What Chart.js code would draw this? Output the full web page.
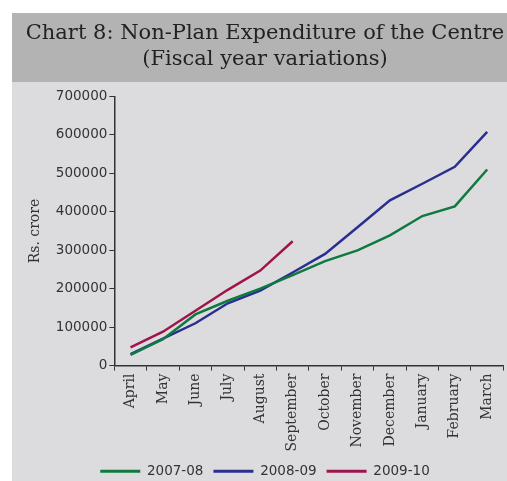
<!DOCTYPE html>
<html><head><meta charset="utf-8">
<script src="https://cdn.jsdelivr.net/npm/chart.js@4/dist/chart.umd.min.js"></script>
<style>html,body{margin:0;padding:0;background:#fff;}#wrap{position:absolute;left:0;top:0;width:507px;height:481px;}</style>
</head><body><div id="wrap"><canvas id="c" width="507" height="481"></canvas></div>
<script>
const categories = ["April","May","June","July","August","September","October","November","December","January","February","March"];
const s2007 = [28000,68500,133000,168500,200000,235000,271500,299500,338500,389000,414000,510000];
const s2008 = [30000,70000,110000,162000,195000,242000,290500,360000,430000,473000,517000,608000];
const s2009 = [47000,88000,142500,197000,247000,323500];
const yTicks = [0,100000,200000,300000,400000,500000,600000,700000];

const bgPlugin = {
  id:'bg',
  beforeDraw(chart){
    const ctx = chart.ctx;
    ctx.save();
    ctx.fillStyle='#ffffff'; ctx.fillRect(0,0,507,481);
    ctx.fillStyle='#b3b3b3'; ctx.fillRect(12,13,495,69);
    ctx.fillStyle='#dcdcde'; ctx.fillRect(12,82,495,399);
    ctx.restore();
  }
};

new Chart(document.getElementById('c'),{
  type:'line',
  data:{labels:categories,datasets:[
    {label:'2007-08',data:s2007,borderColor:'#0e7a40',backgroundColor:'#0e7a40',borderWidth:2.5,pointRadius:0,tension:0},
    {label:'2008-09',data:s2008,borderColor:'#2b2e8f',backgroundColor:'#2b2e8f',borderWidth:2.5,pointRadius:0,tension:0},
    {label:'2009-10',data:s2009,borderColor:'#a0144c',backgroundColor:'#a0144c',borderWidth:2.5,pointRadius:0,tension:0}
  ]},
  options:{
    responsive:false,animation:false,
    layout:{padding:{left:23,right:0,top:16,bottom:-7}},
    plugins:{
      title:{display:true,text:['Chart 8: Non-Plan Expenditure of the Centre','(Fiscal year variations)'],
        color:'#222',font:{family:'DejaVu Serif',size:21,weight:'normal',lineHeight:1.25},padding:{top:4,bottom:24}},
      legend:{position:'bottom',labels:{boxWidth:40,boxHeight:3,color:'#333',font:{family:'DejaVu Sans',size:13.5},padding:10,
        generateLabels(chart){
          return chart.data.datasets.map((d,i)=>({text:d.label,fillStyle:d.borderColor,strokeStyle:d.borderColor,lineWidth:0,datasetIndex:i,fontColor:'#333'}));
        }}},
      tooltip:{enabled:false}
    },
    scales:{
      x:{offset:true,grid:{display:true,drawOnChartArea:false,offset:true,color:'#333',tickLength:5,tickColor:'#333'},
        border:{color:'#333',width:1.5},
        ticks:{color:'#333',font:{family:'DejaVu Serif',size:14},maxRotation:90,minRotation:90,padding:3}},
      y:{min:0,max:700000,afterBuildTicks(ax){ax.ticks=yTicks.map(v=>({value:v}));},
        grid:{display:true,drawOnChartArea:false,color:'#333',tickLength:5,tickColor:'#333'},
        border:{color:'#333',width:1.5},
        title:{display:true,text:'Rs. crore',color:'#333',font:{family:'DejaVu Serif',size:14},padding:{bottom:10}},
        ticks:{color:'#333',font:{family:'DejaVu Sans',size:13.5},padding:2,callback:v=>String(v)}}
    }
  },
  plugins:[bgPlugin]
});
</script></body></html>
